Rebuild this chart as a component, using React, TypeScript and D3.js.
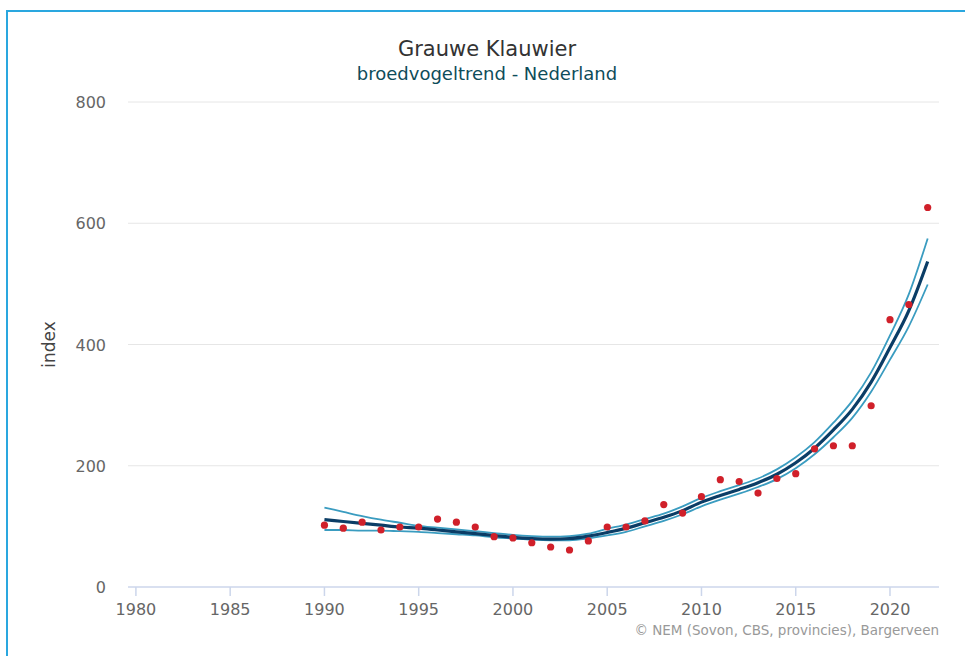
import React from "react";
import * as d3 from "d3";

// Grauwe Klauwier - broedvogeltrend Nederland
const years = d3.range(1990, 2023);

const indexValues = [
  102, 97, 107, 94, 99, 99, 112, 107, 99, 83, 81, 73, 66, 61, 76, 99, 99,
  109, 136, 122, 149, 177, 174, 155, 179, 187, 228, 233, 233, 299, 441, 466, 626,
];

const trend = [
  111, 108, 105, 102, 99, 97, 94, 91, 88, 85, 82, 80, 79, 80, 84, 90, 97,
  106, 115, 126, 140, 151, 161, 172, 186, 205, 229, 259, 293, 338, 395, 456, 537,
];

const upper = [
  131, 124, 117, 111, 106, 101, 98, 95, 92, 89, 86, 84, 83, 84, 88, 96, 103,
  112, 121, 133, 147, 158, 168, 179, 194, 214, 239, 271, 307, 354, 415, 483, 575,
];

const lower = [
  94, 94, 93, 93, 92, 91, 89, 87, 85, 82, 80, 78, 77, 77, 80, 85, 91,
  100, 109, 120, 133, 144, 154, 165, 178, 196, 219, 247, 279, 322, 375, 430, 499,
];

const xTicks = [1980, 1985, 1990, 1995, 2000, 2005, 2010, 2015, 2020];
const yTicks = [0, 200, 400, 600, 800];

const width = 965;
const height = 656;
const marginLeft = 128;
const marginRight = 26;
const marginTop = 102;
const marginBottom = 69;
const font = "'DejaVu Sans', Verdana, sans-serif";

export default function App() {
  const x = d3
    .scaleLinear()
    .domain([1979.58, 2022.6])
    .range([marginLeft, width - marginRight]);

  const y = d3
    .scaleLinear()
    .domain([0, 800])
    .range([height - marginBottom, marginTop]);

  const line = (vals: number[]) =>
    d3
      .line<number>()
      .x((_, i) => x(years[i]))
      .y((d) => y(d))
      .curve(d3.curveMonotoneX)(vals) || "";

  return (
    <svg
      width={width}
      height={height}
      style={{ position: "absolute", left: 0, top: 0, background: "#fff" }}
      fontFamily={font}
    >
      {/* frame */}
      <rect x={7} y={11} width={1000} height={700} fill="none" stroke="#2aa7df" strokeWidth={2} />

      {/* titles */}
      <text x={487} y={56} textAnchor="middle" fontSize={21} fill="#333">
        Grauwe Klauwier
      </text>
      <text x={487} y={80} textAnchor="middle" fontSize={18} fill="#0e4c5a">
        broedvogeltrend - Nederland
      </text>

      {/* grid + y labels */}
      {yTicks.map((t) => (
        <g key={t}>
          {t > 0 && (
            <line x1={marginLeft} x2={width - marginRight} y1={y(t)} y2={y(t)} stroke="#e6e6e6" />
          )}
          <text x={106} y={y(t) + 6} textAnchor="end" fontSize={16} fill="#666">
            {t}
          </text>
        </g>
      ))}

      <text
        transform={`translate(55,${(marginTop + height - marginBottom) / 2}) rotate(-90)`}
        textAnchor="middle"
        fontSize={17}
        fill="#444"
      >
        index
      </text>

      {/* x axis */}
      <line
        x1={marginLeft}
        x2={width - marginRight}
        y1={y(0)}
        y2={y(0)}
        stroke="#ccd6eb"
        strokeWidth={1.5}
      />
      {xTicks.map((t) => (
        <g key={t}>
          <line x1={x(t)} x2={x(t)} y1={y(0)} y2={y(0) + 9} stroke="#ccd6eb" strokeWidth={1.5} />
          <text x={x(t)} y={615} textAnchor="middle" fontSize={16} fill="#666">
            {t}
          </text>
        </g>
      ))}

      {/* confidence band + trend */}
      <path d={line(upper)} fill="none" stroke="#3a9cc0" strokeWidth={1.8} />
      <path d={line(lower)} fill="none" stroke="#3a9cc0" strokeWidth={1.8} />
      <path d={line(trend)} fill="none" stroke="#0b3d66" strokeWidth={3.2} />

      {/* index points */}
      {indexValues.map((v, i) => (
        <circle key={years[i]} cx={x(years[i])} cy={y(v)} r={3.6} fill="#d0202a" />
      ))}

      <text x={width - marginRight} y={635} textAnchor="end" fontSize={13.5} fill="#999">
        © NEM (Sovon, CBS, provincies), Bargerveen
      </text>
    </svg>
  );
}
